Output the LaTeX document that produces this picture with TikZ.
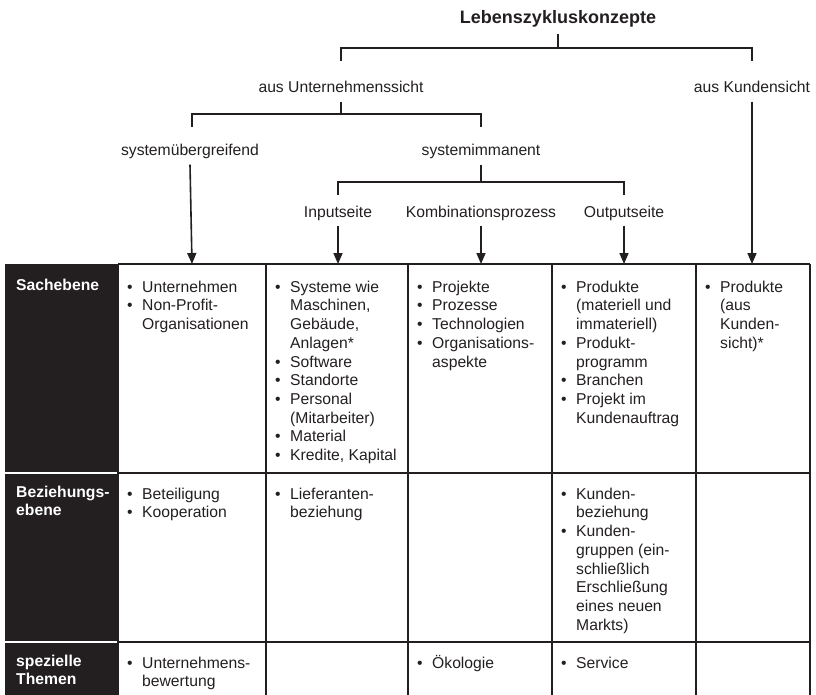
\documentclass[tikz,border=0pt]{standalone}
\usepackage{fontspec}
\setmainfont{Liberation Sans}
\usetikzlibrary{arrows.meta}
\definecolor{ink}{HTML}{231F20}

% bullet list helpers for table cells
\newcommand\BulletL{\makebox[15bp][l]{\textbullet}}
\newcommand\ContL{\hspace*{15bp}}
\newcommand\CellList[1]{\begin{tabular}[t]{@{}l@{}}#1\end{tabular}}

\begin{document}
\begin{tikzpicture}[x=1bp,y=-1bp,
  every node/.style={text=ink},
  lbl/.style={font=\fontsize{15.7bp}{18.7bp}\selectfont, text height=11.5bp, text depth=3.5bp, inner xsep=0pt, inner ysep=5bp},
  ttl/.style={font=\fontsize{18bp}{21bp}\selectfont\bfseries, text height=13.5bp, text depth=3.5bp, inner xsep=0pt, inner ysep=6.5bp},
  cell/.style={font=\fontsize{15.7bp}{18.7bp}\selectfont, inner sep=0pt, anchor=north west},
  head/.style={font=\fontsize{15.7bp}{18.7bp}\selectfont\bfseries, text=white, inner sep=0pt, anchor=north west},
  tree/.style={draw=ink, line width=1.6bp},
  arr/.style={tree, -{Triangle[length=11bp,width=9bp]}},
  rule/.style={draw=ink, line width=1.6bp}]
\useasboundingbox (0,0) rectangle (816,695);
\clip (0,0) rectangle (816,695);

% ---------- hierarchy ----------
\node[ttl] (title) at (558,19) {Lebenszykluskonzepte};
\node[lbl] (uns)  at (341,89) {aus Unternehmenssicht};
\node[lbl] (kund) at (752,89) {aus Kundensicht};
\node[lbl] (sysu) at (190,152) {systemübergreifend};
\node[lbl] (sysi) at (481,152) {systemimmanent};
\node[lbl] (inp)  at (338,213) {Inputseite};
\node[lbl] (komb) at (481,213) {Kombinationsprozess};
\node[lbl] (outp) at (624,213) {Outputseite};

% bracket joints and free ends
\coordinate (j1)  at (558,48);
\coordinate (e1l) at (341,61);
\coordinate (e1r) at (752,61);
\coordinate (j2)  at (341,114);
\coordinate (e2l) at (192,127);
\coordinate (e2r) at (481,127);
\coordinate (j3)  at (481,182);
\coordinate (e3l) at (338,195);
\coordinate (e3r) at (624,195);

\draw[tree] (title.south) -- (j1);
\draw[tree] (e1l) |- (j1) -| (e1r);
\draw[tree] (uns.south) -- (j2);
\draw[tree] (e2l) |- (j2) -| (e2r);
\draw[tree] (sysi.south) -- (j3);
\draw[tree] (e3l) |- (j3) -| (e3r);

% arrow targets on the table head
\coordinate (t1) at (192,264);
\coordinate (t2) at (338,264);
\coordinate (t3) at (481,264);
\coordinate (t4) at (624,264);
\coordinate (t5) at (752,264);

% ---------- table ----------
\fill[ink] (5,264) rectangle (118,472.2);
\fill[ink] (5,473.8) rectangle (118,641.2);
\fill[ink] (5,642.8) rectangle (118,700);

\draw[rule] (118,264) -- (810,264);
\draw[rule] (118,473) -- (810,473);
\draw[rule] (118,642) -- (810,642);
\foreach \cx in {118,266,408,552,696,810}
  \draw[rule] (\cx,264) -- (\cx,700);

\draw[arr] (sysu.south) -- (t1);
\draw[arr] (inp.south)  -- (t2);
\draw[arr] (komb.south) -- (t3);
\draw[arr] (outp.south) -- (t4);
\draw[arr] (kund.south) -- (t5);

% row heads
\node[head] (h1) at (16,277) {\CellList{Sachebene}};
\node[head] (h2) at (16,484) {\CellList{Beziehungs-\\ebene}};
\node[head] (h3) at (16,653) {\CellList{spezielle\\Themen}};

% row 1
\node[cell] (c11) at (127,279) {\CellList{\BulletL Unternehmen\\ \BulletL Non-Profit-\\ \ContL Organisationen}};
\node[cell] (c12) at (275,279) {\CellList{\BulletL Systeme wie\\ \ContL Maschinen,\\ \ContL Gebäude,\\ \ContL Anlagen*\\ \BulletL Software\\ \BulletL Standorte\\ \BulletL Personal\\ \ContL (Mitarbeiter)\\ \BulletL Material\\ \BulletL Kredite, Kapital}};
\node[cell] (c13) at (417,279) {\CellList{\BulletL Projekte\\ \BulletL Prozesse\\ \BulletL Technologien\\ \BulletL Organisations-\\ \ContL aspekte}};
\node[cell] (c14) at (561,279) {\CellList{\BulletL Produkte\\ \ContL (materiell und\\ \ContL immateriell)\\ \BulletL Produkt-\\ \ContL programm\\ \BulletL Branchen\\ \BulletL Projekt im\\ \ContL Kundenauftrag}};
\node[cell] (c15) at (705,279) {\CellList{\BulletL Produkte\\ \ContL (aus\\ \ContL Kunden-\\ \ContL sicht)*}};

% row 2
\node[cell] (c21) at (127,486) {\CellList{\BulletL Beteiligung\\ \BulletL Kooperation}};
\node[cell] (c22) at (275,486) {\CellList{\BulletL Lieferanten-\\ \ContL beziehung}};
\node[cell] (c24) at (561,486) {\CellList{\BulletL Kunden-\\ \ContL beziehung\\ \BulletL Kunden-\\ \ContL gruppen (ein-\\ \ContL schließlich\\ \ContL Erschließung\\ \ContL eines neuen\\ \ContL Markts)}};

% row 3
\node[cell] (c31) at (127,655) {\CellList{\BulletL Unternehmens-\\ \ContL bewertung}};
\node[cell] (c33) at (417,655) {\CellList{\BulletL Ökologie}};
\node[cell] (c34) at (561,655) {\CellList{\BulletL Service}};
\end{tikzpicture}
\end{document}
